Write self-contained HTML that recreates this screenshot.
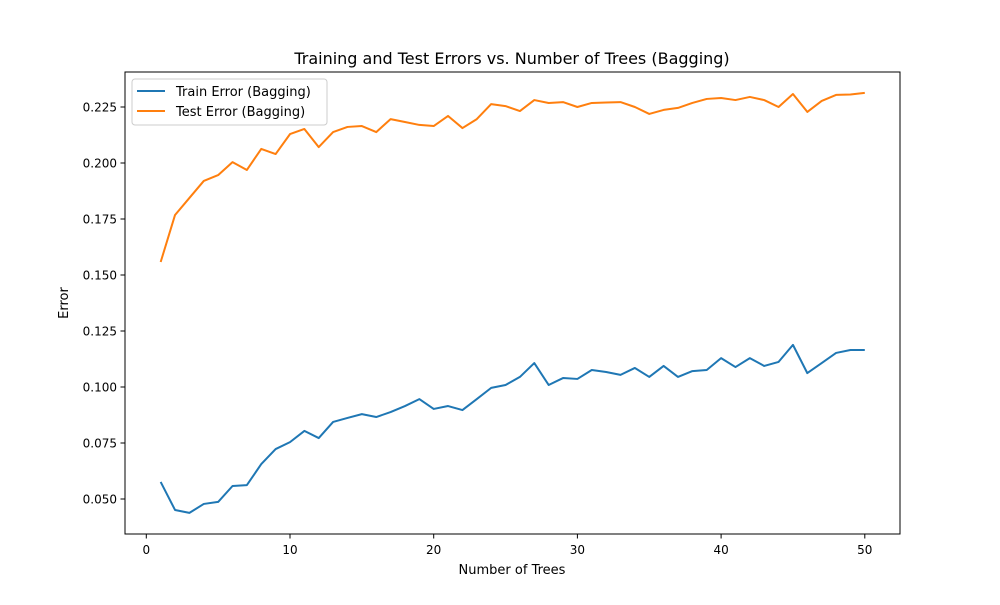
<!DOCTYPE html>
<html><head><meta charset="utf-8"><style>
body{margin:0;background:#fff;font-family:"Liberation Sans","DejaVu Sans",sans-serif}
svg text{font-family:"DejaVu Sans","Liberation Sans",sans-serif}
</style></head><body>
<svg id="c" width="1000" height="600" xmlns="http://www.w3.org/2000/svg">
<rect width="1000" height="600" fill="#fff"/>
<text x="512" y="64" font-size="16" text-anchor="middle">Training and Test Errors vs. Number of Trees (Bagging)</text>
<text x="512" y="574" font-size="13" text-anchor="middle">Number of Trees</text>
<text x="68" y="303" font-size="13" text-anchor="middle" transform="rotate(-90 68 303)">Error</text>
<g id="ax"></g>
<rect x="125" y="72" width="775" height="462" fill="none" stroke="#000" stroke-width="1"/>
<g>
<rect x="132" y="79" width="195" height="46" fill="#fff" stroke="#ccc" rx="3"/>
<g><line x1="137" x2="165" y1="91" y2="91" stroke="#1f77b4" stroke-width="2"/><text x="176" y="96" font-size="13">Train Error (Bagging)</text></g>
<g><line x1="137" x2="165" y1="111" y2="111" stroke="#ff7f0e" stroke-width="2"/><text x="176" y="116" font-size="13">Test Error (Bagging)</text></g>
</g>
</svg>
<script>
const trees=Array.from({length:50},(_,i)=>i+1);
const trainErr=[0.0576,0.0451,0.0438,0.0478,0.0487,0.0558,0.0562,0.0656,0.0723,0.0754,0.0804,0.0772,0.0844,0.0862,0.0879,0.0866,0.0888,0.0915,0.0946,0.0902,0.0915,0.0897,0.0946,0.0996,0.1009,0.1045,0.1107,0.1009,0.1040,0.1036,0.1076,0.1067,0.1054,0.1085,0.1045,0.1094,0.1045,0.1071,0.1076,0.1129,0.1089,0.1129,0.1094,0.1112,0.1188,0.1062,0.1107,0.1152,0.1165,0.1165];
const testErr=[0.1558,0.1768,0.1844,0.1920,0.1946,0.2004,0.1969,0.2063,0.2040,0.2129,0.2152,0.2071,0.2138,0.2161,0.2165,0.2138,0.2196,0.2183,0.2170,0.2165,0.2210,0.2156,0.2196,0.2263,0.2254,0.2232,0.2281,0.2268,0.2272,0.2250,0.2268,0.2270,0.2272,0.2250,0.2219,0.2237,0.2246,0.2268,0.2286,0.2290,0.2281,0.2295,0.2281,0.2250,0.2308,0.2228,0.2277,0.2304,0.2306,0.2313];
const xTicks=[0,10,20,30,40,50];
const yTicks=[0.050,0.075,0.100,0.125,0.150,0.175,0.200,0.225];
const X=v=>146.3+v*14.37;
const Y=v=>107+(0.225-v)/0.025*56;
const NS="http://www.w3.org/2000/svg";
const ax=document.getElementById('ax');
function mk(t,a){const e=document.createElementNS(NS,t);for(const k in a)e.setAttribute(k,a[k]);ax.appendChild(e);return e;}
xTicks.forEach(t=>{
const l=mk('line',{x1:X(t),x2:X(t),y1:534,y2:538.5,stroke:'#000'});


const tx=mk('text',{x:X(t),y:554,'font-size':12,'text-anchor':'middle'});tx.textContent=t;


});
yTicks.forEach(t=>{
const l=mk('line',{x1:120.5,x2:125,y1:Y(t),y2:Y(t),stroke:'#000'});


const tx=mk('text',{x:117,y:Y(t)+4.5,'font-size':12,'text-anchor':'end'});tx.textContent=t.toFixed(3);


});
function line(vals,col,name){
const p=mk('polyline',{points:vals.map((v,i)=>X(trees[i])+','+Y(v)).join(' '),fill:'none',stroke:col,'stroke-width':2,'stroke-linejoin':'round'});


}
line(trainErr,'#1f77b4','train-error-line');
line(testErr,'#ff7f0e','test-error-line');
</script>
</body></html>
